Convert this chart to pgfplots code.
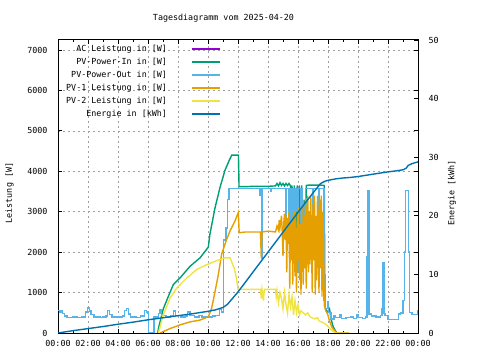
\documentclass[border=0pt]{standalone}
\usepackage{pgfplots}
\pgfplotsset{compat=1.18}
\usepackage{fontspec}
\setmainfont{DejaVu Sans Mono}
\definecolor{acp}{HTML}{9400D3}
\definecolor{pvin}{HTML}{009E73}
\definecolor{pvout}{HTML}{56B4E9}
\definecolor{pvone}{HTML}{E69F00}
\definecolor{pvtwo}{HTML}{F0E442}
\definecolor{energ}{HTML}{0072B2}
\definecolor{gridc}{HTML}{A0A0A0}
\newcommand{\gf}{\fontsize{8.4}{10}\selectfont}
\pgfplotstableread{
h W
0.0 560
0.1 520
0.2 560
0.3 480
0.45 420
0.6 380
1.0 400
1.3 380
1.6 400
1.85 520
1.95 620
2.1 540
2.2 460
2.4 400
2.8 380
3.0 400
3.2 420
3.3 560
3.45 460
3.6 400
4.0 400
4.3 420
4.45 560
4.55 600
4.7 470
4.85 400
5.2 380
5.5 420
5.75 560
5.9 520
6.0 480
6.05 0
6.35 0
6.4 400
6.7 480
6.8 580
6.9 440
7.2 400
7.5 420
7.7 540
7.85 440
8.2 400
8.5 420
8.65 520
8.8 430
9.1 400
9.4 440
9.6 400
10.0 400
10.3 420
10.5 440
10.75 580
10.9 520
11.0 500
11.05 2300
11.2 2600
11.3 3300
11.4 3580
13.4 3580
13.45 3400
13.5 3580
13.6 1850
13.65 3580
14.2 3500
14.25 3580
15.2 2600
15.25 3580
15.35 2300
15.4 3580
15.5 2500
15.55 3580
15.65 2200
15.7 3580
15.8 1600
15.85 3000
15.9 3580
16.0 1500
16.05 3580
16.15 2000
16.2 3580
16.3 1700
16.35 3200
16.45 2400
16.5 3580
17.0 2800
17.05 3580
17.35 1600
17.4 3580
17.72 800
17.85 600
17.95 780
18.05 500
18.2 350
18.4 420
18.5 380
18.8 450
18.9 360
19.2 380
19.5 400
19.7 360
19.9 450
20.0 380
20.3 360
20.5 400
20.6 1900
20.65 3525
20.72 470
20.9 420
21.2 400
21.5 430
21.6 600
21.65 1730
21.72 480
21.8 430
22.0 340
22.5 340
22.7 470
22.85 490
23.0 800
23.08 2000
23.15 3525
23.38 2000
23.45 500
23.6 460
23.95 460
24 560
}\pvouttab

\begin{document}
\begin{tikzpicture}
\useasboundingbox (-58bp,-27bp) rectangle (422bp,333bp);
\begin{axis}[
  at={(0bp,0bp)}, anchor=south west,
  scale only axis, width=360bp, height=293bp,
  xmin=0, xmax=24, ymin=0, ymax=7250,
  xtick={0,2,...,24},
  xticklabels={00:00,02:00,04:00,06:00,08:00,10:00,12:00,14:00,16:00,18:00,20:00,22:00,00:00},
  minor x tick num=1,
  ytick={0,1000,...,7000},
  yticklabels={0,1000,2000,3000,4000,5000,6000,7000},
  tick align=inside,
  major tick length=4bp, minor tick length=2bp,
  tick style={black, line width=0.9bp},
  axis line style={black, line width=1bp},
  grid=major,
  major grid style={gridc, line width=0.7bp, dash pattern=on 2bp off 3bp},
  yticklabel style={font=\gf, xshift=-7bp},
  xticklabel style={font=\gf, yshift=-4bp},
  legend plot pos=right,
  legend cell align=right,
  legend style={at={(0,1)}, anchor=north west, xshift=5bp, yshift=-3bp,
    draw=none, fill=none, font=\gf, row sep=5bp, column sep=24bp,
    nodes={inner sep=0pt, text height=6bp, text depth=2bp}},
  legend image code/.code={\draw[#1] (0bp,0bp) -- (28bp,0bp);},
  every axis plot/.append style={line width=1.4bp, mark=none},
]
% AC Leistung (mostly hidden below PV-Power-Out)
\addplot[acp, const plot, forget plot] table[x=h, y=W] {\pvouttab};
% PV-Power-In
\addplot[pvin, forget plot] coordinates {
(6.65,0) (6.7,120) (7.02,600) (7.35,900) (7.69,1200) (8.13,1360) (8.8,1650) (9.47,1860)
(10.02,2125) (10.13,2450) (10.47,3100) (10.8,3600) (11.13,4025) (11.42,4275) (11.58,4400)
(12.03,4400) (12.07,3620) (12.5,3620) (13.0,3630) (13.5,3630) (14.0,3630) (14.5,3640)
(14.6,3700) (14.7,3640) (14.8,3720) (14.9,3650) (15.0,3700) (15.1,3640) (15.2,3700)
(15.3,3650) (15.4,3700) (15.5,3640)
(15.55,2600) (15.6,3650) (15.7,2300) (15.75,3650) (15.85,1700) (15.9,3100) (15.95,3650)
(16.05,1600) (16.1,3650) (16.2,2100) (16.25,3650) (16.35,1800) (16.4,3300) (16.5,2500)
(16.55,3650) (16.7,3660) (17.0,3660) (17.5,3660) (17.75,3650)
(17.8,650) (17.95,500) (18.1,600) (18.2,350) (18.35,150) (18.5,50) (18.6,0) (19.4,0)
};
% PV-Power-Out
\addplot[pvout, const plot, forget plot] table[x=h, y=W] {\pvouttab};
% PV-1
\addplot[pvone, forget plot] coordinates {
(6.8,0) (7.47,110) (8.13,200) (8.8,275) (9.47,320) (10.02,400) (10.24,610) (10.47,1025)
(10.69,1450) (10.91,1950) (11.2,2275) (11.47,2525) (11.8,2775) (12.02,2980) (12.08,2480)
(12.5,2500) (13.0,2500) (13.5,2500) (13.55,1860) (13.6,2500) (14.0,2520) (14.5,2500)
(14.6,2650) (14.7,2550) (14.75,2800) (14.8,2600) (14.9,2900) (14.95,2500) (15.0,1900)
(15.05,2700) (15.1,2950) (15.15,2300) (15.2,2900) (15.25,1500) (15.3,2850) (15.35,2200)
(15.4,3000) (15.45,1100) (15.5,2700) (15.55,1800) (15.6,2900) (15.65,1200) (15.7,2500)
(15.75,3000) (15.8,1400) (15.85,2600) (15.9,1000) (15.95,2900) (16.0,1800) (16.05,3100)
(16.1,1300) (16.15,2700) (16.2,950) (16.25,3200) (16.3,2000) (16.35,1200) (16.4,2900)
(16.45,1600) (16.5,3300) (16.55,1100) (16.6,2600) (16.65,3400) (16.7,1500) (16.75,3000)
(16.8,1700) (16.85,3400) (16.9,2200) (16.95,1000) (17.0,3200) (17.05,1800) (17.1,3400)
(17.15,950) (17.2,2900) (17.25,1300) (17.3,3400) (17.35,2500) (17.4,1000) (17.45,3300)
(17.5,1600) (17.55,3400) (17.6,900) (17.65,3000) (17.7,2400) (17.75,700) (17.85,550)
(17.95,500) (18.1,300) (18.25,150) (18.45,50) (18.6,0) (19.4,0)
};
% PV-2
\addplot[pvtwo, forget plot] coordinates {
(6.69,0) (7.02,450) (7.47,860) (7.91,1110) (8.58,1360) (9.24,1570) (9.91,1690) (10.58,1790)
(11.13,1860) (11.47,1860) (11.75,1600) (11.9,1350) (12.0,1075) (12.5,1080) (13.0,1080)
(13.5,1080) (13.55,850) (13.6,1080) (13.7,800) (13.75,1080) (14.5,1080) (14.55,900)
(14.6,1050) (14.7,750) (14.8,1000) (14.9,850) (15.0,600) (15.1,1000) (15.2,700) (15.3,500)
(15.4,950) (15.5,650) (15.6,900) (15.7,450) (15.8,800) (15.9,500) (16.0,700) (16.1,450)
(16.2,550) (16.5,450) (16.65,500) (16.8,400) (17.1,350) (17.3,380) (17.4,300) (17.7,250)
(17.9,200) (18.2,80) (18.5,0) (19.4,0)
};
\addlegendimage{acp, line width=1.4bp}
\addlegendentry{AC Leistung in [W]}
\addlegendimage{pvin, line width=1.4bp}
\addlegendentry{PV-Power-In in [W]}
\addlegendimage{pvout, line width=1.4bp}
\addlegendentry{PV-Power-Out in [W]}
\addlegendimage{pvone, line width=1.4bp}
\addlegendentry{PV-1 Leistung in [W]}
\addlegendimage{pvtwo, line width=1.4bp}
\addlegendentry{PV-2 Leistung in [W]}
\addlegendimage{energ, line width=1.4bp}
\addlegendentry{Energie in [kWh]}
\end{axis}
\begin{axis}[
  at={(0bp,0bp)}, anchor=south west,
  scale only axis, width=360bp, height=293bp,
  xmin=0, xmax=24, ymin=0, ymax=50,
  axis y line*=right, axis x line=none,
  ytick={0,10,...,50},
  yticklabels={0,10,20,30,40,50},
  tick align=inside,
  major tick length=4bp,
  tick style={black, line width=0.9bp},
  axis line style={black, line width=1bp},
  yticklabel style={font=\gf, xshift=7bp},
]
\addplot[energ, line width=1.4bp, mark=none] coordinates {
(0,0) (1,0.4) (2,0.75) (3,1.1) (4,1.5) (5,1.85) (6,2.25) (7,2.6) (8,2.95) (9,3.3)
(10,3.7) (10.5,3.95) (11,4.35) (11.3,4.9) (11.6,5.8) (12.0,7.0) (13,10.4) (14,13.8)
(15,17.2) (16,20.6) (17,23.9) (17.5,25.5) (17.8,25.9) (18.0,26.05) (18.5,26.3) (19,26.45)
(19.5,26.55) (20,26.7) (20.5,26.9) (21,27.1) (21.5,27.3) (22,27.5) (22.5,27.65) (23,27.85)
(23.2,28.1) (23.35,28.6) (23.6,28.9) (24,29.2)
};
\end{axis}
\node[font=\gf] at (165.5bp,315bp) {Tagesdiagramm vom 2025-04-20};
\node[font=\gf, rotate=90] at (-48.5bp,140bp) {Leistung [W]};
\node[font=\gf, rotate=90] at (394bp,140bp) {Energie [kWh]};
\end{tikzpicture}
\end{document}
